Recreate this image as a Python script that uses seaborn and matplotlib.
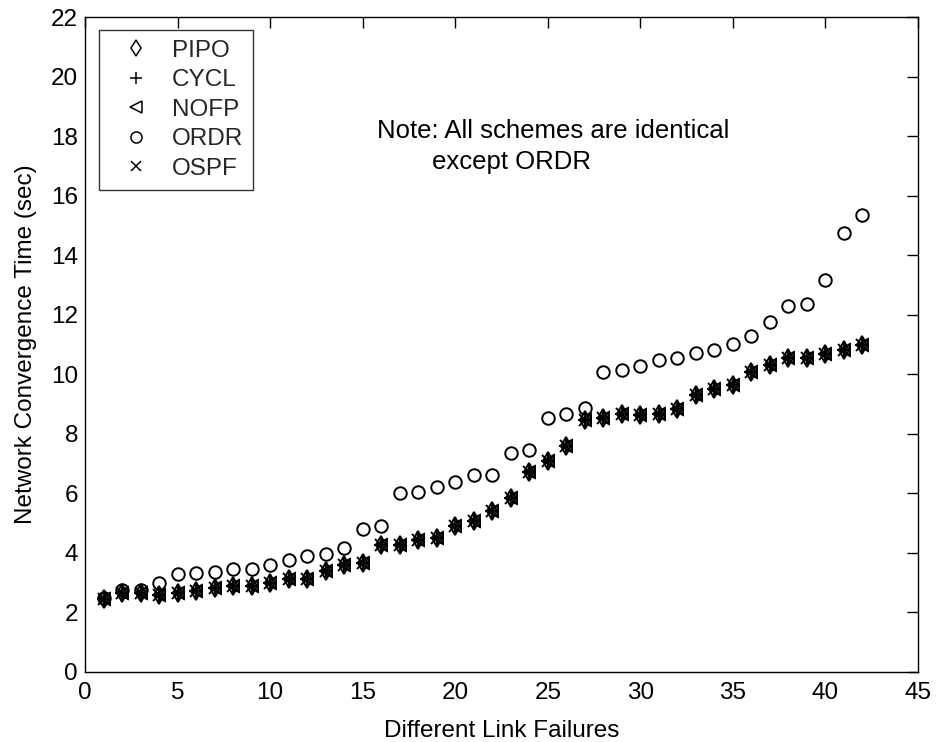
import matplotlib
matplotlib.use("Agg")
import matplotlib.pyplot as plt
import seaborn as sns
import numpy as np
import pandas as pd
from matplotlib.lines import Line2D

sns.set_theme(style="white")
plt.rcParams['font.family'] = ['Liberation Sans', 'DejaVu Sans']

failures = list(range(1, 43))
common = [2.45, 2.67, 2.64, 2.58, 2.66, 2.72, 2.81, 2.89, 2.89, 2.98,
          3.12, 3.12, 3.40, 3.58, 3.65, 4.27, 4.28, 4.43, 4.49, 4.90,
          5.08, 5.41, 5.86, 6.73, 7.10, 7.60, 8.48, 8.52, 8.65, 8.63,
          8.65, 8.85, 9.30, 9.52, 9.63, 10.08, 10.30, 10.53, 10.56, 10.67,
          10.80, 11.00]
ordr = [2.50, 2.75, 2.75, 3.00, 3.30, 3.33, 3.37, 3.46, 3.46, 3.58,
        3.75, 3.91, 3.97, 4.15, 4.80, 4.91, 6.00, 6.05, 6.23, 6.38,
        6.61, 6.62, 7.35, 7.44, 8.52, 8.65, 8.86, 10.09, 10.16, 10.29,
        10.49, 10.54, 10.72, 10.80, 11.03, 11.28, 11.77, 12.30, 12.35, 13.15,
        14.75, 15.34]

schemes = ["PIPO", "CYCL", "NOFP", "ORDR", "OSPF"]
values = {"PIPO": common, "CYCL": common, "NOFP": common, "ORDR": ordr, "OSPF": common}
markers = {"PIPO": "d", "CYCL": "+", "NOFP": "<", "ORDR": "o", "OSPF": "x"}
msize = {"PIPO": 9, "CYCL": 10, "NOFP": 9, "ORDR": 9, "OSPF": 8}

df = pd.concat([pd.DataFrame({"x": failures, "y": values[s], "scheme": s}) for s in schemes],
               ignore_index=True)

fig = plt.figure(figsize=(9.37, 7.42), dpi=100)
ax = fig.add_axes([85/937, 1-672/742, (918-85)/937, (672-17)/742])

for s in schemes:
    sub = df[df["scheme"] == s]
    sns.lineplot(data=sub, x="x", y="y", ax=ax, estimator=None, sort=False,
                 linestyle="none", marker=markers[s], markersize=msize[s],
                 markerfacecolor="none", markeredgecolor="black",
                 markeredgewidth=1.4, color="black", legend=False)

ax.set_xlim(0, 45)
ax.set_ylim(0, 22)
ax.set_xticks(np.arange(0, 46, 5))
ax.set_yticks(np.arange(0, 23, 2))
ax.tick_params(direction="in", length=8, width=1, top=True, right=True,
               labelsize=17.5, colors="black")
ax.tick_params(axis="x", pad=7.5)
ax.tick_params(axis="y", pad=5)
for sp in ax.spines.values():
    sp.set_color("black")
    sp.set_linewidth(1)
    sp.set_visible(True)
ax.set_xlabel("Different Link Failures", fontsize=17.5, color="black", labelpad=11)
ax.set_ylabel("Network Convergence Time (sec)", fontsize=17.5, color="black", labelpad=10)

ax.text(15.77, 17.94, "Note: All schemes are identical", fontsize=18.5, color="black",
        ha="left", va="baseline")
ax.text(18.74, 16.88, "except ORDR", fontsize=18.5, color="black", ha="left", va="baseline")

handles = [Line2D([], [], linestyle="none", marker=markers[s], markersize=msize[s] - 1,
                  markerfacecolor="none", markeredgecolor="black", markeredgewidth=1.1)
           for s in schemes]
leg = ax.legend(handles, schemes, loc="upper left", bbox_to_anchor=(14/833, 1 - 13/655),
                fontsize=17.5, frameon=True, fancybox=False, edgecolor="black",
                handlelength=2.22, handletextpad=0.37, labelspacing=0.31,
                borderpad=0.4, borderaxespad=0)
leg.get_frame().set_linewidth(1)

fig.savefig("out.png", dpi=100, facecolor="white")
